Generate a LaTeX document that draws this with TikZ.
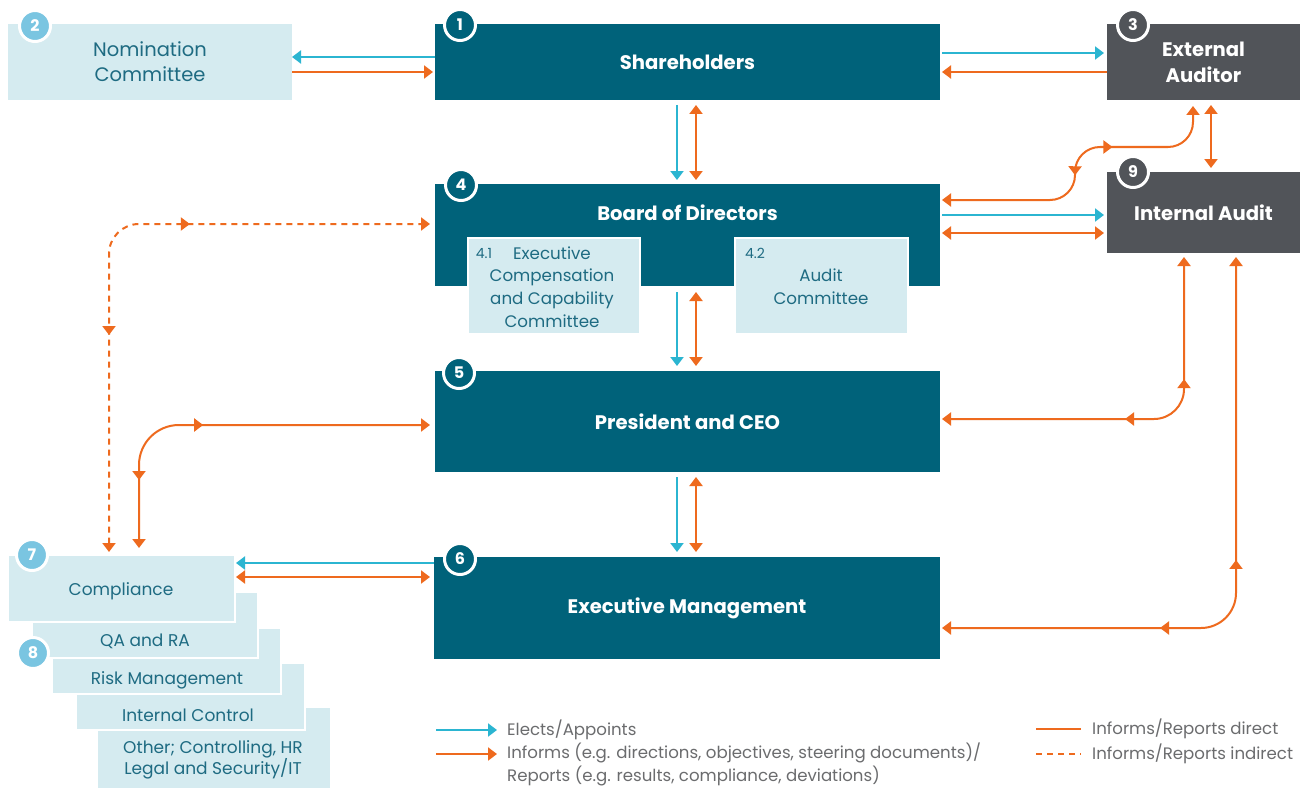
\documentclass[tikz,border=0pt]{standalone}
\usepackage{fontspec}
\setmainfont{Poppins}
\usetikzlibrary{arrows.meta,decorations.markings,calc}
\definecolor{cTeal}{HTML}{00627A}
\definecolor{cGrey}{HTML}{515459}
\definecolor{cLight}{HTML}{D5EBF0}
\definecolor{cNum}{HTML}{7AC5E1}
\definecolor{cTxt}{HTML}{1E6B82}
\definecolor{cCyan}{HTML}{2BB5D1}
\definecolor{cOr}{HTML}{EE6A1E}
\definecolor{cLeg}{HTML}{6B6C6E}
\tikzset{
  tipA/.tip={Triangle[width=13pt,length=9pt]},
  dbox/.style={fill=cTeal,text=white,inner sep=0pt,outer sep=0pt,align=center,font=\fontsize{19.6}{26}\selectfont\bfseries},
  gbox/.style={fill=cGrey,text=white,inner sep=0pt,outer sep=0pt,align=center,font=\fontsize{19.6}{26}\selectfont\bfseries},
  dtext/.style={text=white,inner sep=0pt,align=center,font=\fontsize{19.6}{26}\selectfont\bfseries},
  lbox/.style={fill=cLight,text=cTxt,inner sep=0pt,outer sep=0pt,align=center,font=\fontsize{19.5}{25}\selectfont},
  sbox/.style={fill=cLight,draw=white,line width=2pt,inner sep=0pt,outer sep=0pt},
  ltext/.style={text=cTxt,inner sep=0pt,align=center,font=\fontsize{17}{19}\selectfont},
  ctext/.style={text=cTxt,inner sep=0pt,align=center,font=\fontsize{16.7}{22.7}\selectfont},
  stext/.style={text=cTxt,inner sep=0pt,font=\fontsize{14}{15}\selectfont},
  num/.style={circle,draw=white,line width=3pt,minimum size=31pt,inner sep=0pt,text=white,font=\fontsize{16}{16}\selectfont\bfseries},
  ca/.style={draw=cCyan,line width=2pt,-tipA},
  oa/.style={draw=cOr,line width=2pt,-tipA},
  oab/.style={draw=cOr,line width=2pt,tipA-tipA},
  leg/.style={text=cLeg,inner sep=0pt,anchor=west,align=left,font=\fontsize{16.6}{23}\selectfont},
  midmarks/.style 2 args={postaction={decorate,decoration={markings,
     mark=at position #1 with {\arrowreversed{tipA}},
     mark=at position #2 with {\arrow{tipA}}}}}
}
\begin{document}
\begin{tikzpicture}[x=1pt,y=-1pt]
\useasboundingbox[fill=white] (0,0) rectangle (1314,789);

% main boxes
\node[lbox,minimum width=284pt,minimum height=76pt] (nom) at (150,62) {Nomination\\Committee};
\node[dbox,minimum width=505pt,minimum height=76pt] (sh) at (687.5,62) {Shareholders};
\node[gbox,minimum width=193pt,minimum height=76pt] (ext) at (1203.5,62) {External\\Auditor};
\node[dbox,minimum width=505pt,minimum height=102pt] (bod) at (687.5,235) {};
\node[dtext] (bodt) at (687.5,213) {Board of Directors};
\node[gbox,minimum width=193pt,minimum height=81pt] (ia) at (1203.5,212.5) {Internal Audit};
\node[dbox,minimum width=505pt,minimum height=101pt] (pres) at (687.5,421.5) {President and CEO};
\node[dbox,minimum width=506pt,minimum height=102pt] (exe) at (687,608) {Executive Management};

% committees
\node[fill=cLight,draw=white,line width=1.5pt,minimum width=172pt,minimum height=96pt,inner sep=0pt] (c41) at (554,286) {};
\node[stext] (c41n) at (484,253) {4.1};
\node[ctext] (c41t) at (552,287) {Executive\\Compensation\\and Capability\\Committee};
\node[fill=cLight,draw=white,line width=1.5pt,minimum width=173pt,minimum height=96pt,inner sep=0pt] (c42) at (821.5,286) {};
\node[stext] (c42n) at (755,253) {4.2};
\node[ctext] (c42t) at (821,287) {Audit\\Committee};

% stacked functions
\node[sbox,minimum width=234pt,minimum height=82pt] (oth) at (214,748) {};
\node[sbox,minimum width=229pt,minimum height=67pt] (ictl) at (190.5,696.5) {};
\node[sbox,minimum width=229pt,minimum height=66pt] (risk) at (166.5,661) {};
\node[sbox,minimum width=226pt,minimum height=66pt] (qa) at (145,625) {};
\node[sbox,minimum width=227pt,minimum height=67pt] (comp) at (121.5,588.5) {};
\node[ltext] (compt) at (121,591) {Compliance};
\node[ltext] (qat) at (145,641) {QA and RA};
\node[ltext] (riskt) at (167,680) {Risk Management};
\node[ltext] (ictlt) at (188,715) {Internal Control};
\node[ltext] (otht) at (213,760) {Other; Controlling, HR\\Legal and Security/IT};

% number badges
\node[num,fill=cTeal] (n1) at (460,25) {1};
\node[num,fill=cNum] (n2) at (35,26) {2};
\node[num,fill=cGrey] (n3) at (1133,25) {3};
\node[num,fill=cTeal] (n4) at (461,185) {4};
\node[num,fill=cTeal] (n5) at (459,373) {5};
\node[num,fill=cTeal] (n6) at (460,559) {6};
\node[num,fill=cNum] (n7) at (32,555) {7};
\node[num,fill=cNum] (n8) at (33,653) {8};
\node[num,fill=cGrey] (n9) at (1133,172) {9};

% straight connectors
\draw[ca] (sh.west |- 0,57) -- (nom.east |- 0,57);
\draw[oa,shorten >=2pt] (nom.east |- 0,72) -- (sh.west |- 0,72);
\draw[ca,shorten <=2pt,shorten >=3pt] (sh.east |- 0,53) -- (ext.west |- 0,53);
\draw[oa,shorten >=2pt] (ext.west |- 0,72) -- (sh.east |- 0,72);

\draw[ca,shorten <=5pt,shorten >=4pt] (sh.south -| 677,0) -- (bod.north -| 677,0);
\draw[oab,shorten <=5pt,shorten >=4pt] (sh.south -| 696,0) -- (bod.north -| 696,0);
\draw[ca,shorten <=6pt,shorten >=5pt] (bod.south -| 677,0) -- (pres.north -| 677,0);
\draw[oab,shorten <=6pt,shorten >=5pt] (bod.south -| 696,0) -- (pres.north -| 696,0);
\draw[ca,shorten <=5pt,shorten >=5pt] (pres.south -| 677,0) -- (exe.north -| 677,0);
\draw[oab,shorten <=5pt,shorten >=5pt] (pres.south -| 696,0) -- (exe.north -| 696,0);

\draw[ca,shorten <=2pt,shorten >=3pt] (bod.east |- 0,215) -- (ia.west |- 0,215);
\draw[oab,shorten <=2pt,shorten >=3pt] (bod.east |- 0,233) -- (ia.west |- 0,233);
\draw[oab,shorten <=5pt,shorten >=4pt] (ext.south -| 1211,0) -- (ia.north -| 1211,0);

\draw[ca,shorten >=1pt] (exe.west |- 0,563) -- (comp.east |- 0,563);
\draw[oab,shorten <=1pt,shorten >=4pt] (comp.east |- 0,577) -- (exe.west |- 0,577);

% curved connectors
\draw[oab,rounded corners=25pt,shorten <=2pt,shorten >=6pt,midmarks={149pt}{204pt}]
  (bod.east |- 0,200) -| (1075,147) -| (ext.south -| 1193,0);
\draw[oab,rounded corners=30pt,shorten <=2pt,shorten >=4pt,midmarks={185pt}{271pt}]
  (pres.east |- 0,419) -| (ia.south -| 1184,0);
\draw[oab,rounded corners=35pt,shorten <=2pt,shorten >=4pt,midmarks={220pt}{349pt}]
  (exe.east |- 0,628) -| (ia.south -| 1236,0);
\draw[oab,dash pattern=on 6pt off 5pt,rounded corners=30pt,shorten <=3pt,shorten >=5pt,midmarks={220pt}{399pt}]
  (comp.north -| 109,0) |- (bod.west |- 0,224);
\draw[oab,rounded corners=40pt,shorten <=7pt,shorten >=5pt,midmarks={75pt}{177pt}]
  (comp.north -| 139,0) |- (pres.west |- 0,425);

% legend
\coordinate (la1) at (436,730); \coordinate (lb1) at (497,730);
\coordinate (la2) at (436,754); \coordinate (lb2) at (497,754);
\coordinate (lc1) at (1036,729); \coordinate (ld1) at (1081,729);
\coordinate (lc2) at (1036,754); \coordinate (ld2) at (1081,754);
\draw[ca] (la1) -- (lb1);
\draw[oa] (la2) -- (lb2);
\draw[draw=cOr,line width=2pt] (lc1) -- (ld1);
\draw[draw=cOr,line width=2pt,dash pattern=on 6pt off 5pt] (lc2) -- (ld2);
\node[leg] (lt1) at (507,730) {Elects/Appoints};
\node[leg,anchor=north west] (lt2) at (507,743) {Informs (e.g. directions, objectives, steering documents)/\\Reports (e.g. results, compliance, deviations)};
\node[leg] (lt3) at (1092,729) {Informs/Reports direct};
\node[leg] (lt4) at (1092,754) {Informs/Reports indirect};
\end{tikzpicture}
\end{document}
